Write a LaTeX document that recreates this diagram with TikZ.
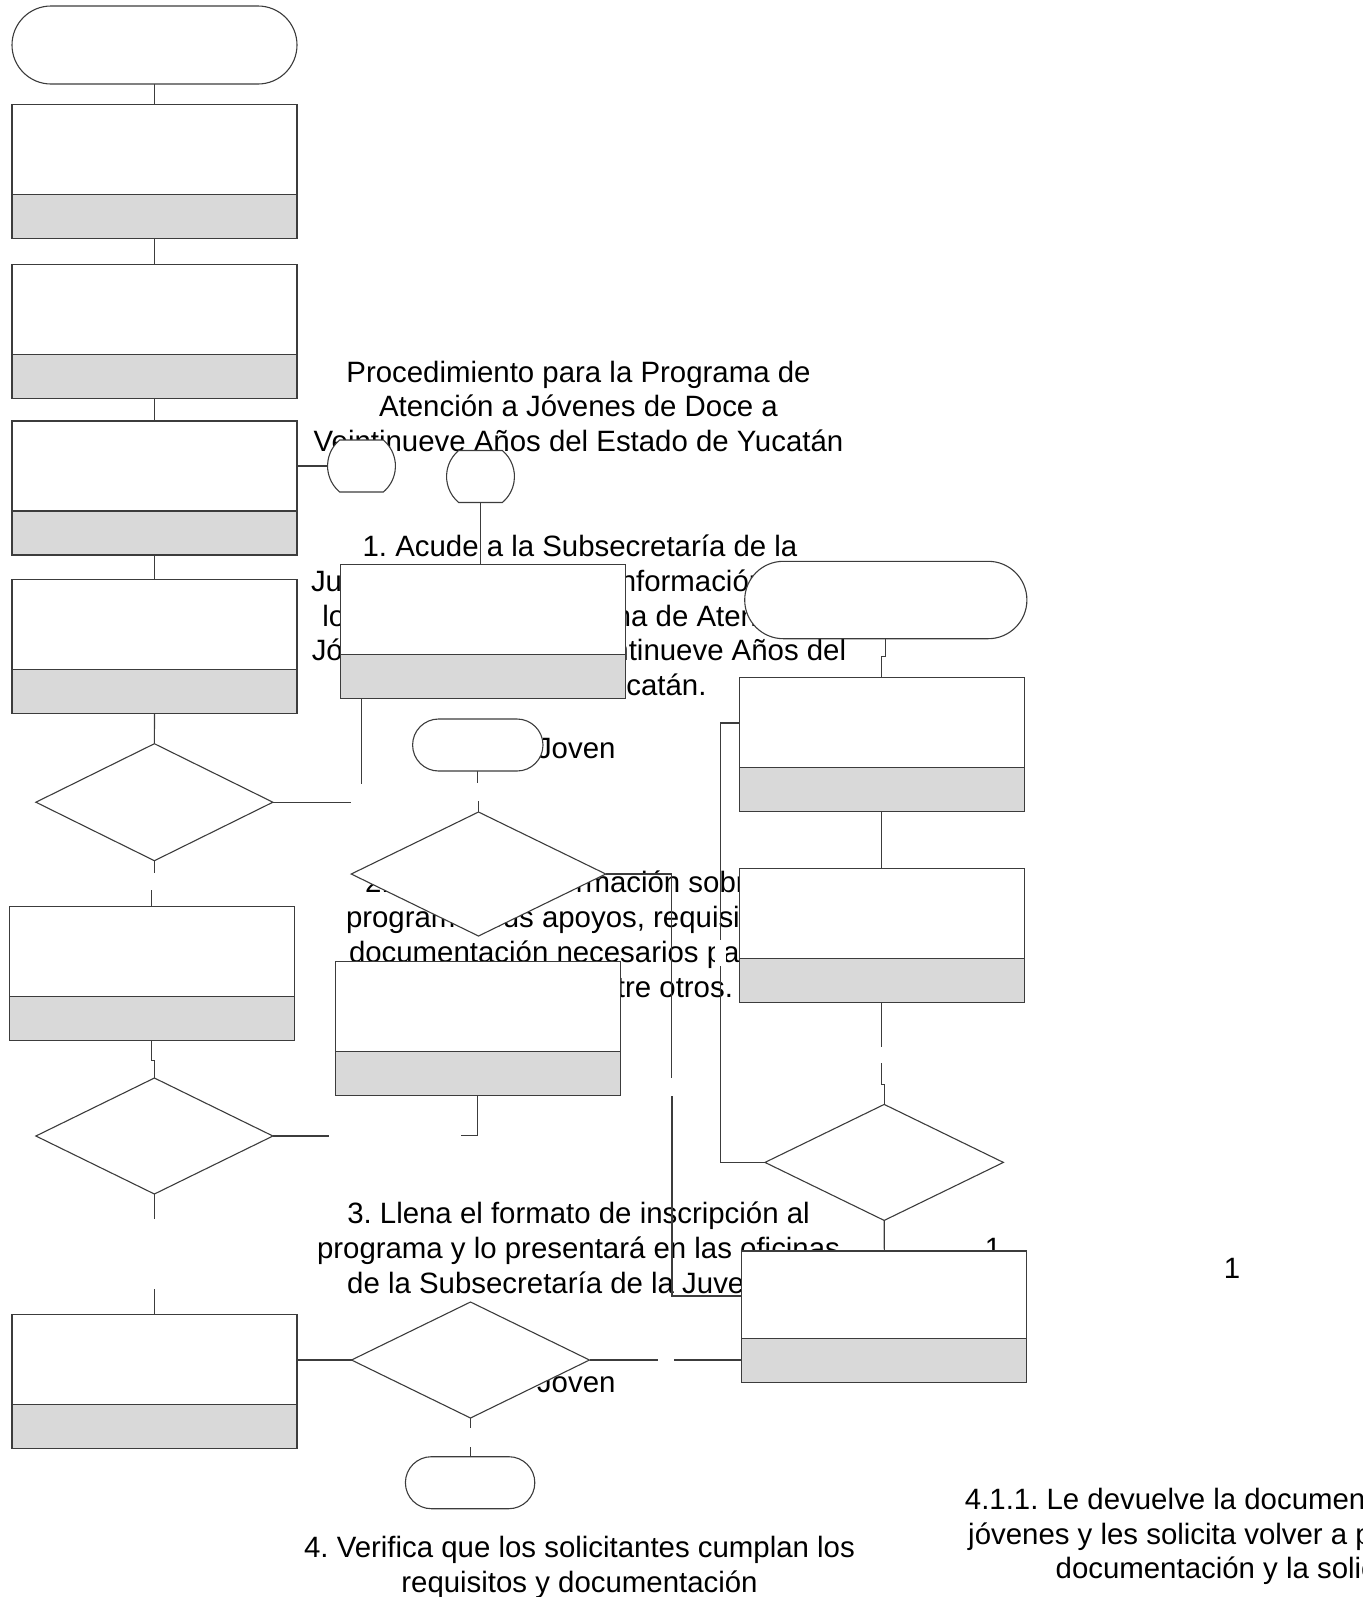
\documentclass[tikz,border=0pt]{standalone}
\usepackage{fontspec}
\setmainfont{Liberation Sans}
\usetikzlibrary{shapes.geometric,shapes.misc}
\pgfdeclarelayer{textlayer}
\pgfdeclarelayer{linelayer}
\pgfsetlayers{textlayer,linelayer,main}
\definecolor{bandgray}{HTML}{D9D9D9}
\definecolor{edgegray}{HTML}{3C3C3C}
\frenchspacing
\tikzset{
  procbox/.style={rectangle, draw=edgegray, line width=0.55pt, fill=white,
    inner sep=0pt, outer sep=0pt, minimum width=142.5pt, minimum height=67pt,
    path picture={
      \fill[bandgray] (path picture bounding box.south west) rectangle ([yshift=22pt]path picture bounding box.south east);
      \draw[edgegray, line width=0.55pt] ([yshift=22pt]path picture bounding box.south west) -- ([yshift=22pt]path picture bounding box.south east);
    }},
  decision/.style={diamond, draw=edgegray, line width=0.55pt, fill=white,
    inner sep=0pt, outer sep=0pt},
  terminal/.style={rounded rectangle, draw=edgegray, line width=0.55pt, fill=white,
    inner sep=0pt, outer sep=0pt},
  offpage/.style={rounded rectangle, rounded rectangle arc length=100, draw=edgegray,
    line width=0.55pt, fill=white, inner sep=0pt, outer sep=0pt,
    minimum width=25.5pt, minimum height=26pt},
  txt/.style={font=\fontsize{14.7}{17.4}\selectfont\frenchspacing, inner sep=0pt, outer sep=0pt, text=black},
  conline/.style={draw=edgegray, line width=0.55pt},
}
\begin{document}
\begin{tikzpicture}[x=0.5pt,y=-0.5pt]
\useasboundingbox (0,0) rectangle (1362,1597);

% ---------- texts (bottom layer) ----------
\begin{pgfonlayer}{textlayer}
\node[txt, anchor=base] (ttl1) at (578.5,382) {Procedimiento para la Programa de};
\node[txt, anchor=base] (ttl2) at (578.5,416.5) {Atención a Jóvenes de Doce a};
\node[txt, anchor=base] (ttl3) at (578.5,451) {Veintinueve Años del Estado de Yucatán};

\node[txt, anchor=base] (s1a) at (580,556) {1. Acude a la Subsecretaría de la};
\node[txt, anchor=base] (s1b) at (579,591) {Juventud para solicitar información sobre};
\node[txt, anchor=base] (s1c) at (579,626) {los apoyos del Programa de Atención a};
\node[txt, anchor=base] (s1d) at (579,660.5) {Jóvenes de Doce a Veintinueve Años del};
\node[txt, anchor=base] (s1e) at (579,695) {Estado de Yucatán.};

\node[txt, anchor=base west] (s2a) at (365,892) {2. Recibe la información sobre el};
\node[txt, anchor=base west] (s2b) at (346,927) {programa, sus apoyos, requisitos y};
\node[txt, anchor=base west] (s2c) at (349,962) {documentación necesarios para la};
\node[txt, anchor=base east] (s2d) at (733,997) {inscripción, entre otros.};

\node[txt, anchor=base] (s3a) at (578.5,1223) {3. Llena el formato de inscripción al};
\node[txt, anchor=base] (s3b) at (578.5,1258) {programa y lo presentará en las oficinas};
\node[txt, anchor=base] (s3c) at (578.5,1293) {de la Subsecretaría de la Juventud.};

\node[txt, anchor=base] (s4a) at (579.5,1557) {4. Verifica que los solicitantes cumplan los};
\node[txt, anchor=base] (s4b) at (579.5,1592) {requisitos y documentación};

\node[txt, anchor=base] (s5a) at (1239.5,1509) {4.1.1. Le devuelve la documentación a los};
\node[txt, anchor=base] (s5b) at (1239.5,1544) {jóvenes y les solicita volver a presentar la};
\node[txt, anchor=base] (s5c) at (1239.5,1578) {documentación y la solicitud};

\node[txt, anchor=base west] (jov1) at (537,758) {Joven};
\node[txt, anchor=base west] (jov2) at (537,1392) {Joven};
\node[txt, anchor=base] (one1) at (993,1258) {1};
\node[txt, anchor=base] (one2) at (1232,1278) {1};
\end{pgfonlayer}

% ---------- shapes ----------
% left column
\node[terminal, minimum width=142.5pt, minimum height=39pt] (T1) at (154.5,45) {};
\node[procbox] (B1) at (154.5,171.5) {};
\node[procbox] (B2) at (154.5,331.5) {};
\node[procbox] (B3) at (154.5,488) {};
\node[procbox] (B4) at (154.5,646.5) {};
\node[decision, minimum width=118.5pt, minimum height=58.5pt] (D1) at (154.4,802.2) {};
\node[procbox] (B5) at (151.7,973.3) {};
\node[decision, minimum width=118.5pt, minimum height=58pt] (D2) at (154.4,1136) {};
\node[procbox] (B6) at (154.5,1381.7) {};

% middle column
\node[offpage] (C1) at (361.5,466) {};
\node[offpage] (C2) at (480.5,476.5) {};
\node[procbox] (BA) at (483.2,631.2) {};
\node[terminal, minimum width=65.2pt, minimum height=26pt] (T2) at (477.8,745) {};
\node[decision, minimum width=127.25pt, minimum height=62pt] (DM1) at (478.5,874) {};
\node[procbox] (BB) at (477.7,1028.9) {};
\node[decision, minimum width=119pt, minimum height=58pt] (D3) at (470.5,1360) {};
\node[terminal, minimum width=64.7pt, minimum height=26pt] (T4) at (470.1,1482.7) {};

% right column
\node[terminal, minimum width=141.1pt, minimum height=38.7pt] (T3) at (885.8,600) {};
\node[procbox] (R1) at (881.7,744.6) {};
\node[procbox] (R2) at (881.7,935.7) {};
\node[decision, minimum width=119.2pt, minimum height=58pt] (DR) at (884.2,1162.4) {};
\node[procbox, minimum height=65.7pt] (R3) at (884.3,1316.7) {};

% blank label patch on the left loop connector
\fill[white] (715,940) rectangle (726,966);

\coordinate (gapA) at (672,1096);

% ---------- connectors ----------
\begin{pgfonlayer}{linelayer}
\draw[conline] (T1.south) -- (B1.north);
\draw[conline] (B1.south) -- (B2.north);
\draw[conline] (B2.south) -- (B3.north);
\draw[conline] (B3.south) -- (B4.north);
\draw[conline] (B4.south) -- (D1.north);
\draw[conline] (B3.east |- C1.west) -- (C1.west);
\draw[conline] (D1.east) -- ++(78,0);
\draw[conline] (D1.south) -- ++(0,12);
\draw[conline] (B5.north) -- ++(0,-16);
\draw[conline] (B5.south) -- ++(0,20) -| (D2.north);
\draw[conline] (D2.east) -- ++(56,0);
\draw[conline] (D2.south) -- ++(0,25);
\draw[conline] (B6.north) -- ++(0,-26);
\draw[conline] (B6.east |- D3.west) -- (D3.west);

\draw[conline] (C2.south) -- (C2.south |- BA.north);
\draw[conline] ([xshift=10.5pt]BA.south west) -- ++(0,86);
\draw[conline] (T2.south) -- ++(0,12);
\draw[conline] (DM1.north) -- ++(0,-11);
\draw[conline] (DM1.east) -| ++(66,204);
\draw[conline] (gapA) |- ([yshift=10.35pt]R3.west);
\draw[conline] (BB.south) -- ++(0,40) -- ++(-17,0);
\draw[conline] (D3.east) -- ++(68,0);
\draw[conline] (R3.west |- D3.east) -- ++(-68,0);
\draw[conline] (D3.south) -- ++(0,10);
\draw[conline] (T4.north) -- ++(0,-10);

\draw[conline] (T3.south) -- ++(0,18) -| (R1.north);
\draw[conline] ([yshift=10.8pt]R1.west) -- ++(-19,0) |- (DR.west);
\draw[conline] (R1.south) -- (R2.north);
\draw[conline] (R2.south) -- ++(0,44);
\draw[conline] (DR.north) -- ++(0,-20) -- ++(-2.5,0) -- ++(0,-21);
\draw[conline] (DR.south) -- (R3.north);
\end{pgfonlayer}
\end{tikzpicture}
\end{document}
